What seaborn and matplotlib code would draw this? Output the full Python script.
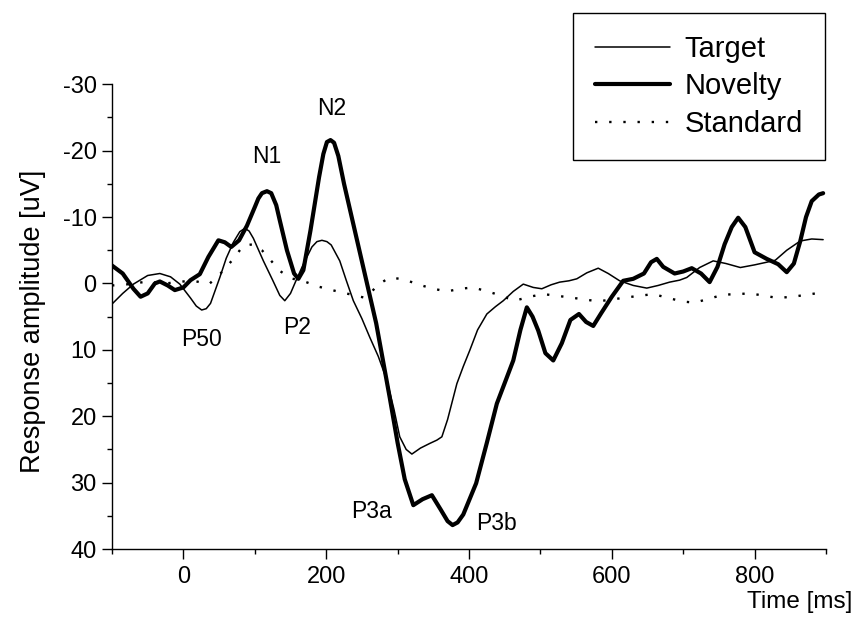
import matplotlib
matplotlib.use("Agg")
import matplotlib.pyplot as plt
from matplotlib.ticker import MultipleLocator
import seaborn as sns
import pandas as pd

# ---------------- data ----------------
target_time = [-100, -85, -70, -50, -33, -18, -5, 10, 18, 25.6, 32, 38, 51, 60, 70, 79, 86, 92, 98, 112,
               125, 135, 142, 150, 158, 168, 180, 187, 194, 201, 207, 219, 228, 238, 250, 261, 273,
               285, 295, 303, 312, 320, 332, 345, 355, 362, 370, 383, 392, 401, 412, 425,
               437, 448, 462, 476, 490, 502, 515, 527, 540, 551, 565, 581, 595, 611, 630,
               649, 665, 681, 695, 705, 723, 742, 760, 780, 800, 817, 829, 845, 864, 880, 896]
target_amp = [3.1, 1.5, 0.1, -1.2, -1.5, -1.0, 0.1, 2.2, 3.4, 4.0, 3.8, 3.0, -0.9, -3.8, -6.2, -7.8, -8.3, -7.9, -6.8, -3.4,
              -0.5, 1.8, 2.6, 1.5, -0.5, -2.9, -5.5, -6.3, -6.5, -6.3, -5.8, -3.4, -0.5, 2.6, 5.3, 8.1, 11.0,
              14.6, 19.0, 23.1, 25.0, 25.7, 24.8, 24.1, 23.6, 23.1, 20.5, 15.1, 12.5, 10.1, 7.0, 4.6,
              3.5, 2.6, 1.2, 0.1, 0.6, 0.8, 0.2, -0.2, -0.4, -0.7, -1.6, -2.3, -1.5, -0.4, 0.3,
              0.7, 0.3, -0.2, -0.5, -0.9, -2.4, -3.4, -3.0, -2.4, -2.8, -3.2, -3.5, -5.0, -6.4, -6.7, -6.6]

novelty_time = [-100, -85, -70, -60, -50, -40, -33, -22, -12, 0, 10, 23, 35, 49, 58, 67, 78, 89,
                100, 105, 110, 117, 123, 130, 135, 145, 155, 161, 168, 178, 190, 196, 201, 206, 211, 217,
                225, 240, 255, 270, 289, 300, 310, 322, 335, 348, 360, 370, 377, 384, 392, 410, 425, 439,
                450, 462, 472, 481, 489, 497, 507, 518, 530, 542, 554, 564, 574, 585, 600, 616, 630, 645,
                655, 663, 672, 688, 700, 712, 725, 737, 748, 758, 768, 777, 787, 800, 817, 833,
                845, 855, 864, 872, 880, 890, 896]
novelty_amp = [-2.7, -1.5, 0.8, 2.0, 1.5, 0.0, -0.3, 0.3, 1.0, 0.6, -0.5, -1.4, -4.0, -6.5, -6.2, -5.5, -6.5, -8.7,
               -11.5, -12.8, -13.6, -13.9, -13.6, -11.8, -9.5, -5.0, -1.5, -0.7, -2.0, -8.0, -16.0, -19.5, -21.3, -21.6, -21.2, -19.2,
               -15.0, -8.0, -1.0, 6.0, 17.2, 24.0, 29.5, 33.4, 32.5, 31.9, 34.0, 35.8, 36.4, 36.0, 34.8, 30.1, 24.0, 18.1,
               15.0, 11.6, 7.0, 3.6, 5.0, 7.1, 10.5, 11.6, 9.0, 5.5, 4.6, 5.8, 6.4, 4.5, 2.0, -0.4, -0.7, -1.5,
               -3.2, -3.7, -2.5, -1.5, -1.8, -2.3, -1.5, -0.2, -2.5, -5.9, -8.5, -9.9, -8.5, -4.7, -3.7, -2.9,
               -1.7, -3.0, -6.4, -10.0, -12.4, -13.4, -13.6]

standard_time = [-100, -75, -50, -25, 0, 14, 36, 52, 67.6, 84, 98, 110, 119, 135, 150, 172, 190,
                 212, 232, 252, 262, 271, 289, 310, 327, 350, 369, 388, 406, 435, 464, 485, 504,
                 541, 581, 621, 658, 698, 716, 736, 756, 794, 833, 860, 892]
standard_amp = [0.3, 0.1, -0.3, 0.0, -0.3, -0.4, 0.1, -1.5, -3.4, -5.7, -5.9, -5.0, -3.9, -1.9, -0.8, -0.2, 0.5,
                1.1, 1.6, 2.1, 1.5, 0.3, -0.9, -0.6, 0.1, 0.8, 1.2, 0.8, 0.6, 1.5, 2.6, 2.0, 1.6,
                2.1, 2.7, 2.1, 1.6, 2.7, 2.9, 2.3, 1.7, 1.5, 2.2, 1.9, 1.4]

series_names = ["Target", "Novelty", "Standard"]

peak_labels = ["P50", "N1", "P2", "N2", "P3a", "P3b"]
peak_label_time = [25.6, 116.7, 159.6, 207.7, 263.7, 438.8]
peak_label_amp = [8.4, -19.1, 6.6, -26.4, 34.4, 36.1]

x_ticks = [0, 200, 400, 600, 800]
y_ticks = [-30, -20, -10, 0, 10, 20, 30, 40]

# ---------------- figure ----------------
sns.set_style("ticks")
plt.rcParams["font.family"] = ["Liberation Sans", "DejaVu Sans"]
plt.rcParams["axes.unicode_minus"] = False
plt.rcParams["text.color"] = "black"

W, H = 856, 619
fig = plt.figure(figsize=(W / 100, H / 100), dpi=100)
ax = fig.add_axes([112 / W, 1 - 549 / H, (826 - 112) / W, (549 - 84.3) / H])

df_t = pd.DataFrame({"time": target_time, "amp": target_amp})
df_n = pd.DataFrame({"time": novelty_time, "amp": novelty_amp})
df_s = pd.DataFrame({"time": standard_time, "amp": standard_amp})

sns.lineplot(data=df_t, x="time", y="amp", ax=ax, color="black", linewidth=1.1,
             estimator=None, sort=False)
sns.lineplot(data=df_n, x="time", y="amp", ax=ax, color="black", linewidth=3.0,
             estimator=None, sort=False)
sns.lineplot(data=df_s, x="time", y="amp", ax=ax, color="black", linewidth=1.7,
             linestyle=(0, (1, 5)), estimator=None, sort=False)
for ln in ax.lines:
    ln.set_solid_joinstyle("round")
    ln.set_solid_capstyle("round")

ax.set_xlim(-100, 900)
ax.set_ylim(40, -30)
ax.set_xticks(x_ticks)
ax.set_yticks(y_ticks)
ax.xaxis.set_minor_locator(MultipleLocator(100))
ax.yaxis.set_minor_locator(MultipleLocator(5))
ax.tick_params(axis="both", which="major", direction="out", length=7, width=1,
               labelsize=17, color="black", labelcolor="black")
ax.tick_params(axis="both", which="minor", direction="out", length=3.5, width=1, color="black")
ax.tick_params(axis="x", which="major", pad=5)
ax.tick_params(axis="y", which="major", pad=4)
for side in ["top", "right"]:
    ax.spines[side].set_visible(False)
for side in ["left", "bottom"]:
    ax.spines[side].set_color("black")
    ax.spines[side].set_linewidth(1.0)
ax.set_xlabel("")
ax.set_ylabel("")

for lab, tx, ty in zip(peak_labels, peak_label_time, peak_label_amp):
    ax.text(tx, ty, lab, ha="center", va="center", fontsize=16.5, color="black")

fig.text(33 / W, 1 - 321 / H, "Response amplitude [uV]", rotation=90,
         ha="center", va="center", fontsize=19.5, color="black")
fig.text(852 / W, 1 - 602 / H, "Time [ms]", ha="right", va="center",
         fontsize=17.5, color="black")

handles = ax.lines[:3]
leg = ax.legend(handles, series_names, loc="upper right",
                bbox_to_anchor=(825 / W, 1 - 13 / H), bbox_transform=fig.transFigure,
                frameon=True, fancybox=False, edgecolor="black", framealpha=1,
                borderaxespad=0, fontsize=21, handlelength=2.57, handletextpad=0.5,
                borderpad=0.75, labelspacing=0.33, labelcolor="black")
leg.get_frame().set_linewidth(1.0)

fig.savefig("out.png", dpi=100)
